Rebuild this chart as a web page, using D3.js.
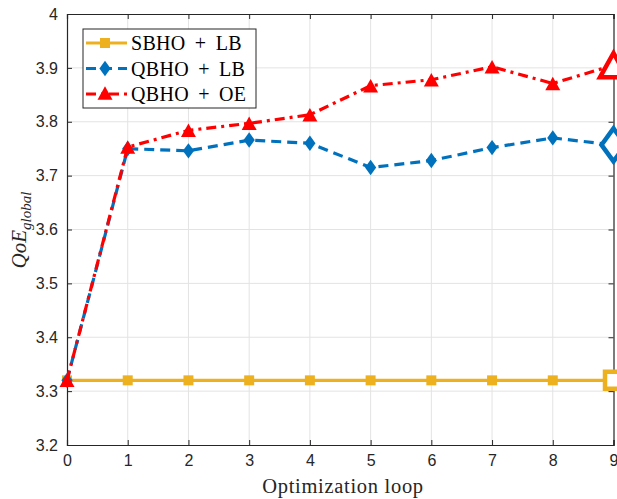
<!DOCTYPE html>
<html>
<head>
<meta charset="utf-8">
<script src="https://cdn.jsdelivr.net/npm/d3@7"></script>
<style>
  html, body { margin: 0; padding: 0; background: #fff; }
  svg { display: block; }
</style>
</head>
<body>
<div id="chart"></div>
<script>
var loops = [0, 1, 2, 3, 4, 5, 6, 7, 8, 9]
var sbhoLb = [3.32, 3.32, 3.32, 3.32, 3.32, 3.32, 3.32, 3.32, 3.32, 3.32]
var qbhoLb = [3.32, 3.75, 3.746, 3.766, 3.76, 3.715, 3.728, 3.752, 3.77, 3.757]
var qbhoOe = [3.32, 3.753, 3.784, 3.797, 3.813, 3.867, 3.878, 3.902, 3.871, 3.905]
var seriesNames = ['SBHO + LB', 'QBHO + LB', 'QBHO + OE']
var yTicks = [3.2, 3.3, 3.4, 3.5, 3.6, 3.7, 3.8, 3.9, 4]

var width = 617, height = 499,
    margins = {top: 14, right: 3, bottom: 54, left: 67}

var colors = {
    yellow: '#EDB120',
    blue: '#0072BD',
    red: '#FF0000',
    axis: '#262626',
    grid: '#e3e3e3'
}

var serif = '"Liberation Serif", "Times New Roman", serif'

var x = d3.scaleLinear().domain([0, 9]).range([margins.left, width - margins.right - 0.5])
var y = d3.scaleLinear().domain([3.2, 4]).range([height - margins.bottom, margins.top])

var svg = d3.select('#chart').append('svg')
    .attr('width', width)
    .attr('height', height)

var x0 = x.range()[0], x1 = x.range()[1], y0 = y.range()[0], y1 = y.range()[1]

// grid
svg.append('g').selectAll('line')
    .data(loops.slice(1, -1))
    .enter().append('line')
    .attr('x1', d => x(d)).attr('x2', d => x(d))
    .attr('y1', y1).attr('y2', y0)
    .attr('stroke', colors.grid).attr('stroke-width', 1)
svg.append('g').selectAll('line')
    .data(yTicks.slice(1, -1))
    .enter().append('line')
    .attr('x1', x0).attr('x2', x1)
    .attr('y1', d => y(d)).attr('y2', d => y(d))
    .attr('stroke', colors.grid).attr('stroke-width', 1)

// axes
var xAxis = svg.append('g')
    .attr('transform', 'translate(0,' + y0 + ')')
    .call(d3.axisBottom(x).tickValues(loops).tickSize(-5).tickPadding(10).tickFormat(d3.format('d')))
var xAxisTop = svg.append('g')
    .attr('transform', 'translate(0,' + y1 + ')')
    .call(d3.axisTop(x).tickValues(loops).tickSize(-5).tickFormat(''))
var yAxis = svg.append('g')
    .attr('transform', 'translate(' + x0 + ',0)')
    .call(d3.axisLeft(y).tickValues(yTicks).tickSize(-5).tickPadding(9).tickFormat(d => d === 4 ? '4' : d.toFixed(1)))
var yAxisRight = svg.append('g')
    .attr('transform', 'translate(' + x1 + ',0)')
    .call(d3.axisRight(y).tickValues(yTicks).tickSize(-5).tickFormat(''))

;[xAxis, xAxisTop, yAxis, yAxisRight].forEach(function(g) {
    g.select('.domain').attr('stroke', colors.axis).attr('stroke-width', 1.2)
    g.selectAll('.tick line').attr('stroke', colors.axis).attr('stroke-width', 1)
    g.selectAll('.tick text')
        .attr('fill', colors.axis)
        .style('font-family', '"Liberation Sans", Arial, sans-serif')
        .style('font-size', '16px')
})
xAxis.selectAll('.tick text').attr('dy', '0.71em')

// labels
svg.append('text')
    .attr('x', 343)
    .attr('y', 493)
    .attr('text-anchor', 'middle')
    .style('font-family', serif)
    .style('font-size', '20.5px')
    .style('letter-spacing', '0.7px')
    .attr('fill', colors.axis)
    .text('Optimization loop')

var ylab = svg.append('text')
    .attr('transform', 'translate(26,' + 230 + ') rotate(-90)')
    .attr('text-anchor', 'middle')
    .style('font-family', serif)
    .style('font-style', 'italic')
    .style('font-size', '21px')
    .attr('fill', colors.axis)
ylab.append('tspan').text('QoE')
ylab.append('tspan').attr('dy', 5).style('font-size', '15px').text('global')

// series
var series = [
    {name: seriesNames[0], values: sbhoLb, color: colors.yellow, dash: null, marker: 'square'},
    {name: seriesNames[1], values: qbhoLb, color: colors.blue, dash: '10,6', marker: 'diamond'},
    {name: seriesNames[2], values: qbhoOe, color: colors.red, dash: '10,5,3,5', marker: 'triangle'}
]

var line = d3.line().x((d, i) => x(loops[i])).y(d => y(d))

function markerPath(type, s) {
    if (type === 'square') return 'M' + (-s / 2) + ',' + (-s / 2) + 'h' + s + 'v' + s + 'h' + (-s) + 'Z'
    if (type === 'diamond') return 'M0,' + (-s * 0.55) + 'L' + (s * 0.4) + ',0L0,' + (s * 0.55) + 'L' + (-s * 0.4) + ',0Z'
    var h = s * 0.9
    return 'M0,' + (-h / 2) + 'L' + (s / 2) + ',' + (h / 2) + 'L' + (-s / 2) + ',' + (h / 2) + 'Z'
}
var markerSize = {square: 10, diamond: 14, triangle: 15}
var bigSize = {square: 17, diamond: 30, triangle: 27}

series.forEach(function(s) {
    var g = svg.append('g')
    g.append('path')
        .datum(s.values)
        .attr('d', line)
        .attr('fill', 'none')
        .attr('stroke', s.color)
        .attr('stroke-width', 3.2)
        .attr('stroke-dasharray', s.dash)
    g.selectAll('path.m')
        .data(s.values.slice(0, -1))
        .enter().append('path')
        .attr('transform', (d, i) => 'translate(' + x(loops[i]) + ',' + y(d) + ')')
        .attr('d', markerPath(s.marker, markerSize[s.marker]))
        .attr('fill', s.color)
    var last = s.values.length - 1
    g.append('path')
        .attr('transform', 'translate(' + x(loops[last]) + ',' + y(s.values[last]) + ')')
        .attr('d', markerPath(s.marker, bigSize[s.marker]))
        .attr('fill', '#fff')
        .attr('stroke', s.color)
        .attr('stroke-width', 4.5)
})

// legend
var legend = svg.append('g').attr('transform', 'translate(83,29)')
legend.append('rect')
    .attr('width', 173).attr('height', 79)
    .attr('fill', '#fff')
    .attr('stroke', colors.axis).attr('stroke-width', 1)
series.forEach(function(s, i) {
    var ly = 14 + i * 25.5
    var row = legend.append('g').attr('transform', 'translate(0,' + ly + ')')
    row.append('line')
        .attr('x1', 3).attr('x2', 44).attr('y1', 0).attr('y2', 0)
        .attr('stroke', s.color).attr('stroke-width', 3.2)
        .attr('stroke-dasharray', s.dash)
    row.append('path')
        .attr('transform', 'translate(22,' + (s.marker === 'triangle' ? -1 : 0) + ')')
        .attr('d', markerPath(s.marker, markerSize[s.marker]))
        .attr('fill', s.color)
    row.append('text')
        .attr('x', 48).attr('y', 7)
        .style('font-family', serif)
        .style('font-size', '20px')
        .style('word-spacing', '4px')
        .style('letter-spacing', '0.3px')
        .attr('fill', '#000')
        .text(s.name)
})
</script>
</body>
</html>
